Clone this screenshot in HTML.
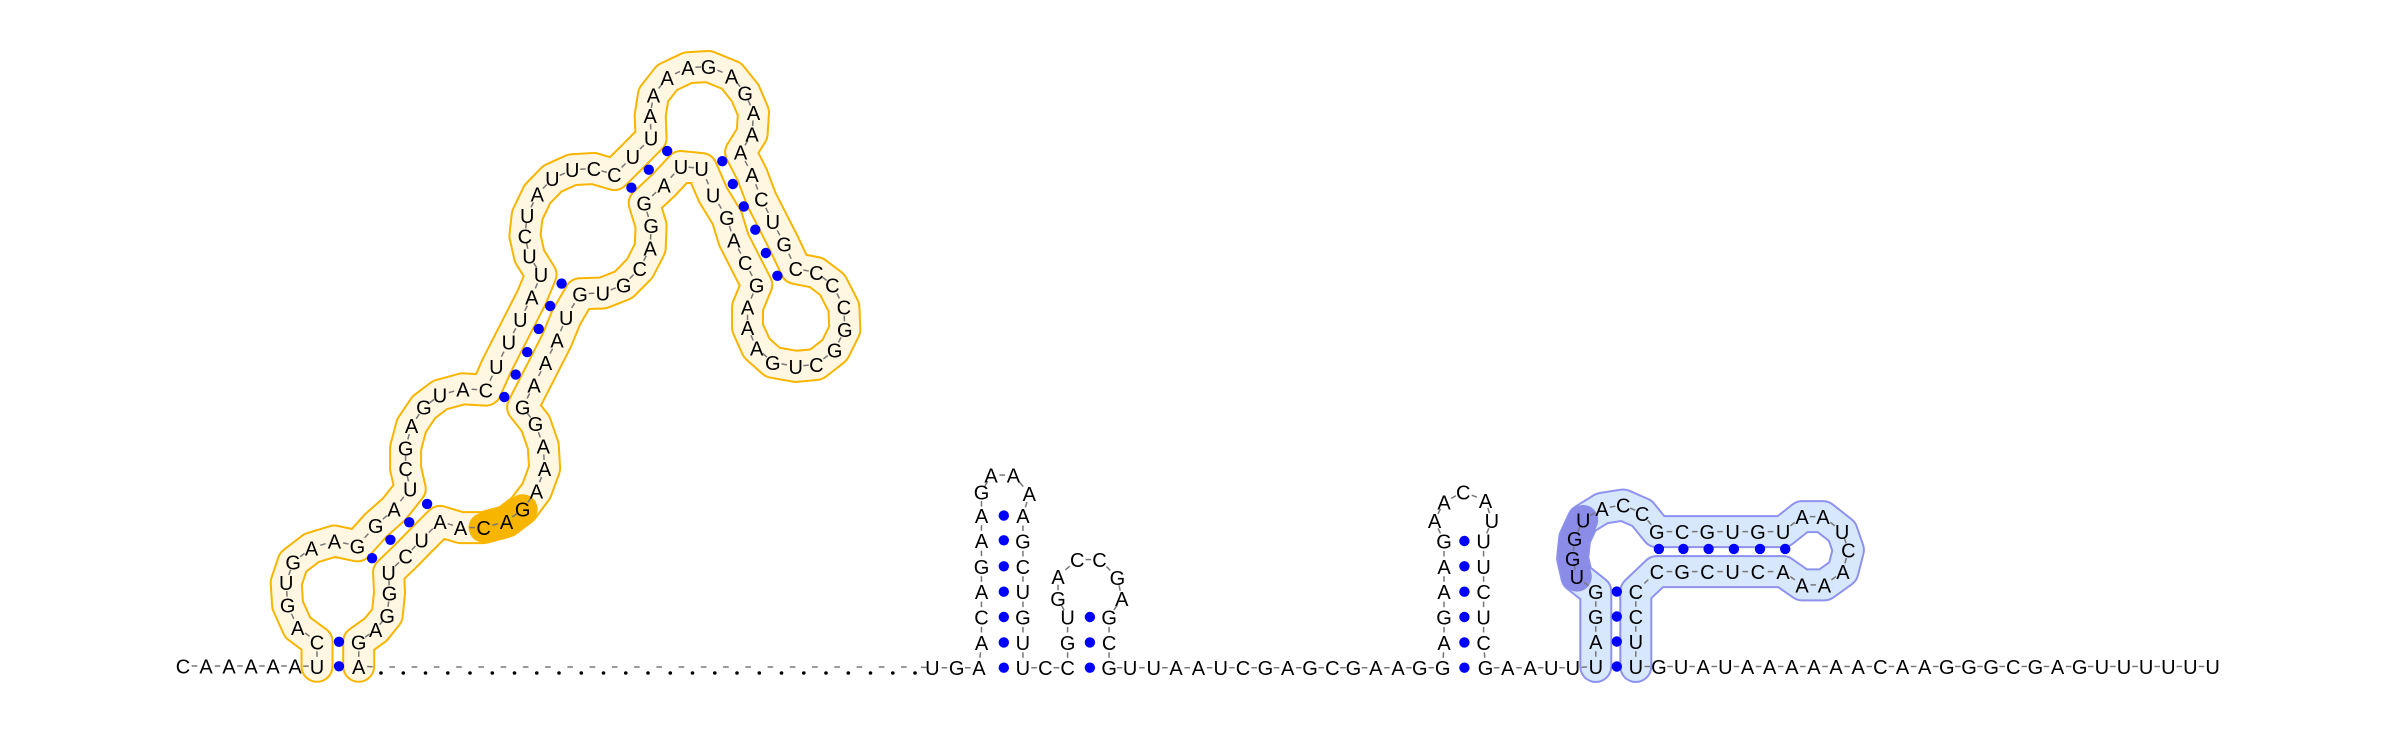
<!DOCTYPE html>
<html><head><meta charset="utf-8"><style>
html,body{margin:0;padding:0;background:#fff;}
svg{display:block;}
text{font-family:"Liberation Sans",sans-serif;font-size:20px;fill:#000;}
</style></head><body>
<svg id="rna" width="2400" height="731" viewBox="0 0 2400 731" xmlns="http://www.w3.org/2000/svg"></svg>
<script>
// nucleotide positions (zoom-space coordinates per region)
const baseLeft = [[183,'C'],[206,'A'],[229,'A'],[251,'A'],[273,'A'],[295,'A']];
const z1Chain = [[342,1535,'U'],[342,1475,'C'],[300,1440,'A'],[278,1385,'G'],[275,1330,'U'],[290,1280,'G'],[330,1245,'A'],[380,1228,'A'],[430,1240,'G'],[470,1190,'G'],[510,1150,'A'],[545,1100,'U'],[535,1050,'C'],[535,1000,'G'],[548,945,'A'],[575,900,'G'],[610,870,'U'],[660,855,'A'],[710,858,'C'],[733,800,'U'],[760,740,'U'],[785,685,'U'],[810,630,'A'],[830,575,'U'],[805,530,'U'],[795,480,'C'],[800,430,'U'],[822,378,'A'],[855,340,'U'],[898,318,'U'],[945,315,'C'],[990,330,'C'],[1030,285,'U'],[1070,240,'U'],[1068,185,'A'],[1075,135,'A'],[1105,92,'A'],[1150,68,'A'],[1195,65,'G'],[1245,88,'A'],[1275,130,'G'],[1293,178,'A'],[1290,230,'A'],[1265,275,'A'],[1290,330,'A'],[1310,390,'C'],[1335,445,'U'],[1360,500,'G'],[1385,560,'C'],[1430,570,'C'],[1465,600,'C'],[1490,655,'C'],[1492,710,'G'],[1470,760,'G'],[1430,795,'C'],[1385,800,'U'],[1335,790,'G'],[1300,755,'A'],[1280,705,'A'],[1280,655,'A'],[1300,600,'G'],[1275,545,'C'],[1250,490,'A'],[1235,435,'G'],[1205,380,'U'],[1180,315,'U'],[1135,310,'U'],[1098,355,'A'],[1055,400,'G'],[1070,455,'G'],[1068,510,'A'],[1045,560,'C'],[1010,600,'G'],[965,620,'U'],[915,622,'G'],[885,680,'U'],[865,735,'A'],[840,790,'A'],[815,845,'A'],[790,900,'G'],[818,940,'G'],[835,995,'A'],[838,1050,'A'],[820,1105,'A'],[790,1150,'G'],[755,1180,'A'],[705,1195,'C'],[655,1195,'A'],[610,1180,'A'],[570,1225,'U'],[535,1265,'C'],[498,1305,'U'],[500,1355,'G'],[495,1410,'G'],[470,1445,'A'],[433,1475,'G'],[433,1535,'A']];
const z1Highlight = [[705,1195],[755,1180],[790,1150]];
const z1Dots = [[390,1475],[390,1535],[462,1270],[502,1225],[543,1182],[582,1137],[750,875],[775,820],[800,765],[825,708],[850,652],[875,597],[1027,362],[1065,318],[1105,272],[1225,297],[1248,353],[1272,408],[1297,465],[1320,522],[1345,578]];
const gapCount = 25;
const z2Chain = [[-12,585,'U'],[26,585,'G'],[61,585,'A'],[65,510,'A'],[65,435,'C'],[65,360,'A'],[65,285,'G'],[65,208,'A'],[65,135,'A'],[65,65,'G'],[80,15,'A'],[115,15,'A'],[140,70,'A'],[130,135,'A'],[130,210,'G'],[130,285,'C'],[130,360,'U'],[130,435,'G'],[130,510,'U'],[130,585,'U'],[165,585,'C'],[200,585,'C'],[200,510,'G'],[200,435,'U'],[185,380,'G'],[185,315,'A'],[215,265,'C'],[250,265,'C'],[278,318,'G'],[285,380,'A'],[265,435,'G'],[265,510,'C'],[265,585,'G'],[298,585,'U'],[335,585,'U'],[370,585,'A'],[405,585,'A'],[440,585,'U'],[475,585,'C'],[510,585,'G'],[545,585,'A'],[580,585,'G'],[615,585,'C'],[648,585,'G'],[683,585,'A'],[718,585,'A'],[752,585,'G'],[788,585,'G'],[790,510,'A'],[790,435,'G'],[790,360,'A'],[790,285,'A'],[790,210,'G'],[775,150,'A'],[790,95,'A'],[820,65,'C'],[855,90,'A'],[865,150,'U'],[852,210,'U'],[852,285,'U'],[852,360,'C'],[852,435,'U'],[852,510,'C'],[855,585,'G'],[890,585,'A'],[925,585,'A'],[958,585,'U'],[992,585,'U']];
const z2Dots = [[100,135],[100,208],[100,285],[100,360],[100,435],[100,510],[100,585],[235,435],[235,510],[235,585],[822,210],[822,285],[822,360],[822,435],[822,510],[822,585]];
const z3Chain = [[85,560,'U'],[85,485,'A'],[85,410,'G'],[85,335,'G'],[40,290,'U'],[30,235,'G'],[35,175,'G'],[55,120,'U'],[100,85,'A'],[150,75,'C'],[195,100,'C'],[230,155,'G'],[290,155,'C'],[350,155,'G'],[410,155,'U'],[470,155,'G'],[530,155,'U'],[575,110,'A'],[625,110,'A'],[670,155,'U'],[685,210,'C'],[672,275,'A'],[628,315,'A'],[575,315,'A'],[530,275,'A'],[470,275,'C'],[410,275,'U'],[350,275,'C'],[290,275,'G'],[230,275,'C'],[180,335,'C'],[180,410,'C'],[180,485,'U'],[180,560,'U']];
const z3Tail = ['G','U','A','U','A','A','A','A','A','A','C','A','A','G','G','G','C','G','A','G','U','U','U','U','U','U'];
const z3Highlight = [[40,290],[30,235],[35,175],[55,120]];
const z3Dots = [[135,335],[135,410],[135,485],[135,560],[235,207],[293,207],[353,207],[413,207],[475,207],[535,207]];

const NS='http://www.w3.org/2000/svg';
const svg=document.getElementById('rna');
const f1=p=>[160+0.459*p[0],40+0.408*p[1]];
const f2=p=>[940+0.638*p[0],470+0.338*p[1]];
const f3=p=>[1560+0.421*p[0],480+0.333*p[1]];
function mk(t,a,parent){const e=document.createElementNS(NS,t);for(const k in a)e.setAttribute(k,a[k]);(parent||svg).appendChild(e);return e;}
const gBand=mk('g',{});


const gBond=mk('g',{});


const gDots=mk('g',{});


const gText=mk('g',{});



const chain=[];
baseLeft.forEach(b=>chain.push({x:b[0],y:666,l:b[1]}));
const z1pts=z1Chain.map(p=>{const q=f1(p);return {x:q[0],y:q[1],l:p[2]};});
z1pts.forEach(p=>chain.push(p));
const gStart=z1pts[z1pts.length-1].x+22.3, gEnd=915;
for(let i=0;i<gapCount;i++){chain.push({x:gStart+(gEnd-gStart)*i/(gapCount-1),y:667,l:'.'});}
z2Chain.forEach(p=>{const q=f2(p);chain.push({x:q[0],y:q[1],l:p[2]});});
const z3pts=z3Chain.map(p=>{const q=f3(p);return {x:q[0],y:q[1],l:p[2]};});
z3pts.forEach(p=>chain.push(p));
z3Tail.forEach((l,i)=>{const q=f3([235+i*52.6,560]);chain.push({x:q[0],y:q[1],l:l});});

function band(pts,outer,fill){
  const s=pts.map(p=>p.x.toFixed(1)+','+p.y.toFixed(1)).join(' ');
  mk('polyline',{points:s,fill:'none',stroke:outer,'stroke-width':33,'stroke-linejoin':'round','stroke-linecap':'round'},gBand);
  mk('polyline',{points:s,fill:'none',stroke:fill,'stroke-width':29,'stroke-linejoin':'round','stroke-linecap':'round'},gBand);
}
band(z1pts,'#f7b500','#fff7e2');
band(z3pts,'#8e92ee','#d8e8fc');
const h1=z1Highlight.map(f1).map(q=>q[0].toFixed(1)+','+q[1].toFixed(1)).join(' ');
const hl1=mk('polyline',{points:h1,fill:'none',stroke:'#f7b500','stroke-width':30,'stroke-linejoin':'round','stroke-linecap':'round'},gBand);


const h3=z3Highlight.map(f3).map(q=>q[0].toFixed(1)+','+q[1].toFixed(1)).join(' ');
const hl3=mk('polyline',{points:h3,fill:'none',stroke:'#8b8be8','stroke-width':30,'stroke-linejoin':'round','stroke-linecap':'round'},gBand);



for(let i=0;i<chain.length-1;i++){
  const a=chain[i],b=chain[i+1];
  const mx=(a.x+b.x)/2,my=(a.y+b.y)/2,dx=b.x-a.x,dy=b.y-a.y,d=Math.hypot(dx,dy)||1;
  const ux=dx/d*2.8,uy=dy/d*2.8;
  mk('line',{x1:mx-ux,y1:my-uy,x2:mx+ux,y2:my+uy,stroke:'#777','stroke-width':1.5},gBond);
}
z1Dots.map(f1).concat(z2Dots.map(f2),z3Dots.map(f3)).forEach(q=>{
  const c=mk('circle',{cx:q[0].toFixed(1),cy:q[1].toFixed(1),r:5.2,fill:'#0000ff'},gDots);
  
  
});
chain.forEach(p=>{
  if(p.l==='.'){
    const c=mk('circle',{cx:p.x.toFixed(1),cy:(p.y+6).toFixed(1),r:1.8,fill:'#000'},gText);
    
    
    return;
  }
  const t=mk('text',{x:p.x.toFixed(1),y:(p.y+7.5).toFixed(1),'text-anchor':'middle'},gText);
  t.textContent=p.l;
  
  
});
</script>
</body></html>
